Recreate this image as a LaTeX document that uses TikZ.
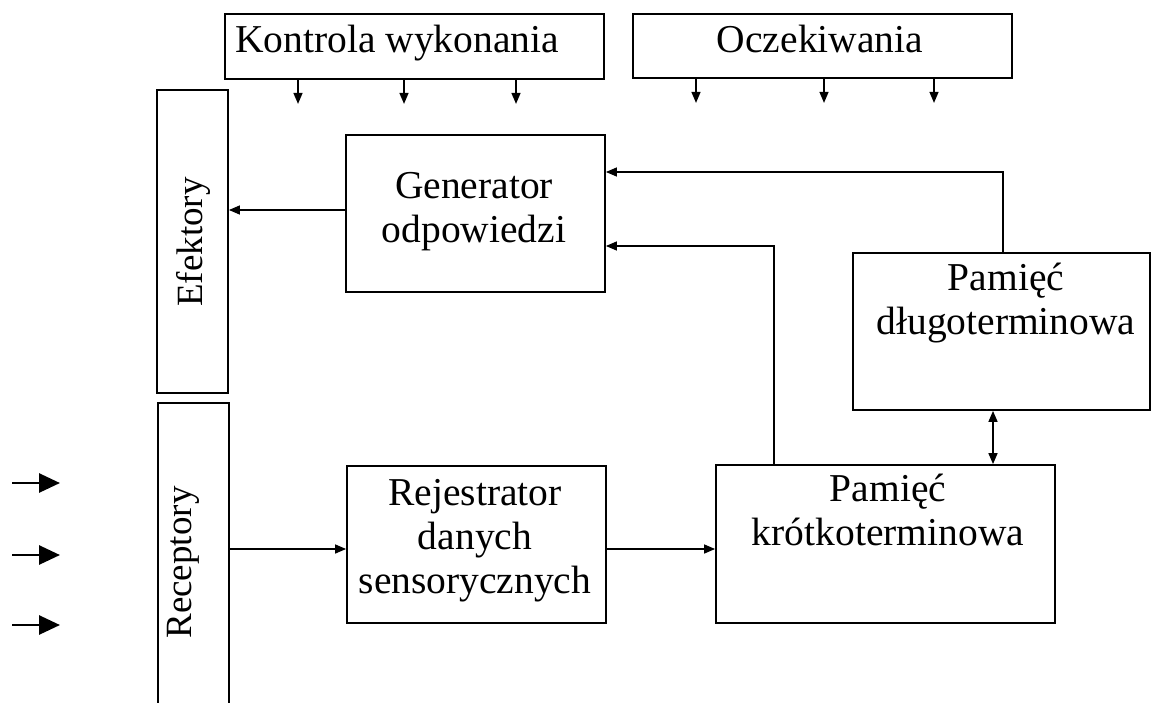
\documentclass[tikz,border=0pt]{standalone}
\usepackage{fontspec}
\setmainfont{Liberation Serif}
\usetikzlibrary{arrows.meta}
\begin{document}
\begin{tikzpicture}[x=1pt,y=-1pt,
  box/.style={draw, line width=1.8pt, inner sep=0pt},
  lbl/.style={align=center, font=\fontsize{39.5}{44}\selectfont, inner sep=0pt},
  side/.style={font=\fontsize{37}{40}\selectfont, rotate=90, inner sep=0pt},
  conn/.style={line width=1.4pt, -{Triangle[length=11pt,width=9pt]}},
  both/.style={line width=1.6pt, {Triangle[length=11pt,width=9pt]}-{Triangle[length=11pt,width=9pt]}},
  input/.style={line width=2.8pt, -{Triangle[length=21pt,width=19pt]}}
]
\fill[white] (0,0) rectangle (1156,702);
\useasboundingbox (0,0) rectangle (1156,702);

% top control boxes
\node[box, minimum width=379pt, minimum height=65pt] (kon) at (414.5,46.5) {};
\node[lbl, anchor=base] (kon-t) at (397,52) {Kontrola wykonania};
\node[box, minimum width=379pt, minimum height=64pt] (ocz) at (822.5,46) {};
\node[lbl, anchor=base] (ocz-t) at (820,52) {Oczekiwania};

% effectors and receptors
\node[box, minimum width=71pt, minimum height=303pt] (efe) at (192.5,241.5) {};
\node[side] (efe-t) at (193.5,242) {Efektory};
\begin{scope}
  \clip (0,0) rectangle (1156,702);
  \node[box, minimum width=71pt, minimum height=340pt] (rec) at (193.5,573) {};
\end{scope}
\node[side] (rec-t) at (183.5,562.5) {Receptory};

% processing blocks
\node[box, minimum width=259pt, minimum height=157pt] (gen) at (475.5,213.5) {};
\node[lbl] (gen-t) at (474,212) {Generator\\odpowiedzi};
\node[box, minimum width=259pt, minimum height=157pt] (rej) at (476.5,544.5) {};
\node[lbl] (rej-t) at (475,541) {Rejestrator\\danych\\sensorycznych};
\node[box, minimum width=339pt, minimum height=158pt] (krot) at (885.5,544) {};
\node[lbl] (krot-t) at (888,510) {Pamięć\\krótkoterminowa};
\node[box, minimum width=297pt, minimum height=157pt] (dlug) at (1001.5,331.5) {};
\node[lbl] (dlug-t) at (1006,303.5) {Pamięć\\długoterminowa};

% influence of control boxes
\foreach \dx in {-116.5,-10.5,101.5}
  \draw[conn] ([xshift=\dx pt]kon.south) -- ++(0,24);
\foreach \dx in {-126.5,1.5,111.5}
  \draw[conn] ([xshift=\dx pt]ocz.south) -- ++(0,24);

% data flow
\draw[conn] ([yshift=3.5pt]gen.west) -- ([yshift=3.5pt]gen.west -| efe.east);
\draw[conn] ([xshift=1.5pt]dlug.north) |- ([yshift=41.5pt]gen.east);
\draw[conn] ([xshift=59pt]krot.north west) |- ([yshift=-32.5pt]gen.east);
\draw[both] ([xshift=-8.5pt]dlug.south) -- ([xshift=-8.5pt]dlug.south |- krot.north);
\draw[conn] ([yshift=-4.5pt]rej.west -| rec.east) -- ([yshift=-4.5pt]rej.west);
\draw[conn] ([yshift=-4.5pt]rej.east) -- ([yshift=-4.5pt]rej.east -| krot.west);

% external stimuli
\coordinate (s1a) at (12,483); \coordinate (s1b) at (60,483);
\coordinate (s2a) at (12,555); \coordinate (s2b) at (60,555);
\coordinate (s3a) at (12,625); \coordinate (s3b) at (60,625);
\draw[input] (s1a) -- (s1b);
\draw[input] (s2a) -- (s2b);
\draw[input] (s3a) -- (s3b);
\end{tikzpicture}
\end{document}
